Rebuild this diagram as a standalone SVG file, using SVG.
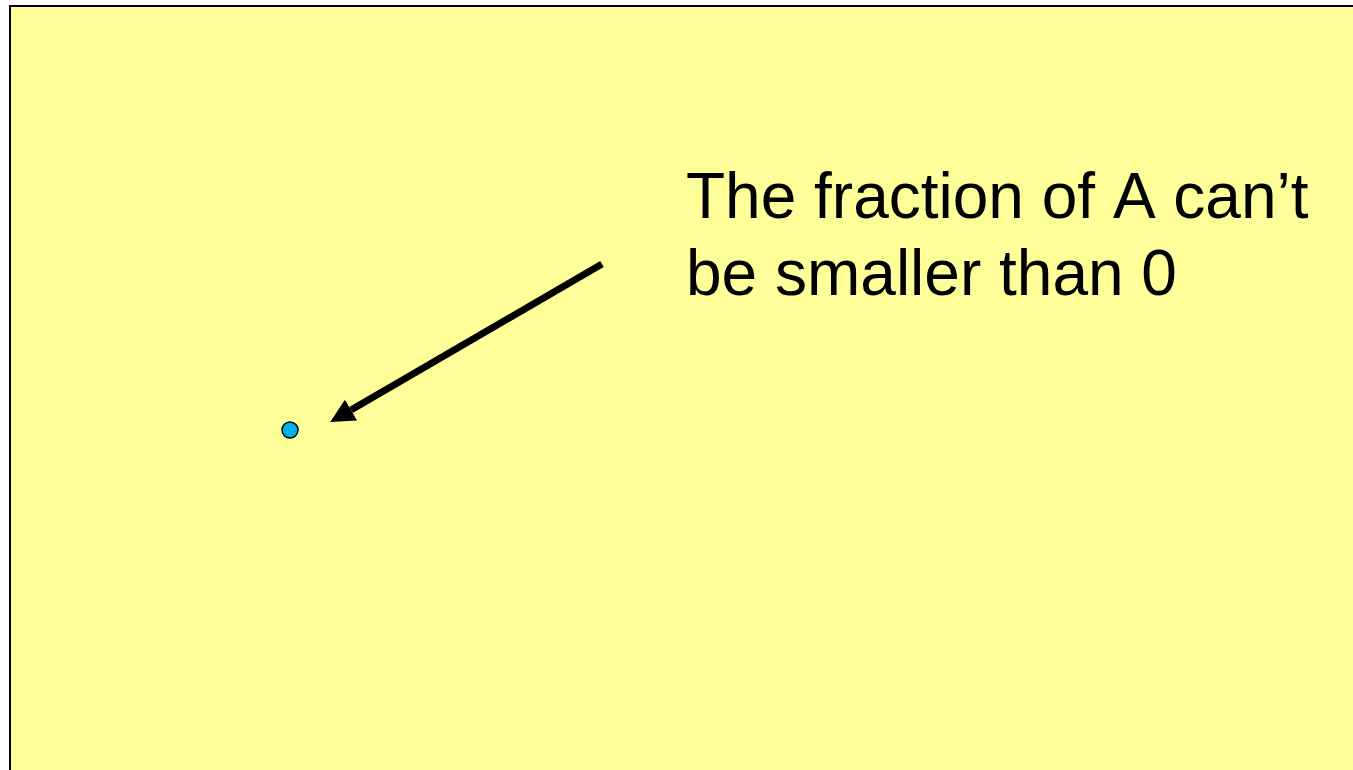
<svg xmlns="http://www.w3.org/2000/svg" width="1353" height="770" viewBox="0 0 1353 770">
<style>
.lbl{font-family:"Liberation Sans",Arial,sans-serif;font-size:64px;fill:#000;font-kerning:none}
</style>
<defs>
<marker id="ah" viewBox="0 0 10 10" refX="0" refY="5" markerWidth="3.43" markerHeight="3.43" markerUnits="strokeWidth" orient="auto">
<path d="M0,0 L10,5 L0,10 z" fill="#000"/>
</marker>
</defs>
<rect x="10" y="6" width="1360" height="780" fill="#FFFF99" stroke="#000" stroke-width="2"/>
<g id="point">
<circle cx="290" cy="430" r="8" fill="#00B0F0" stroke="#000" stroke-width="1.5"/>
</g>
<g id="label">
<text class="lbl" x="686" y="218">The fraction of A can’t</text>
<text class="lbl" x="686" y="295">be smaller than 0</text>
</g>
<g id="connectors">
<line x1="602" y1="264" x2="351" y2="410" stroke="#000" stroke-width="7" marker-end="url(#ah)"/>
</g>
</svg>
